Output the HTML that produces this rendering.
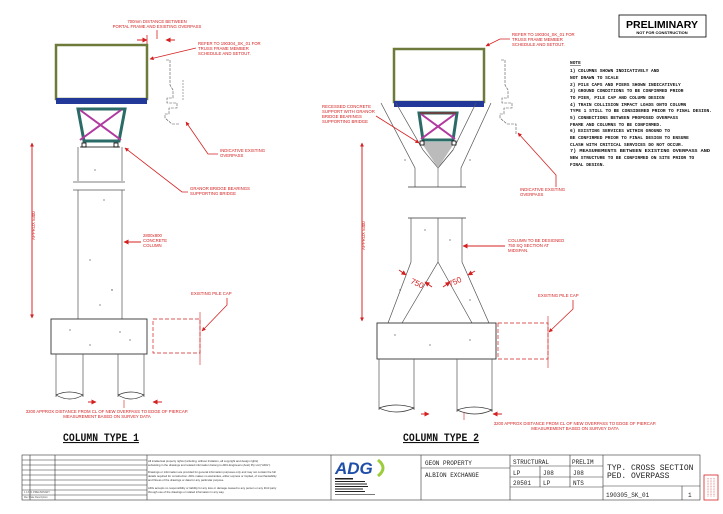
<!DOCTYPE html>
<html><head><meta charset="utf-8"><style>
html,body{margin:0;padding:0;background:#fff;}
svg{display:block;font-family:"Liberation Sans",sans-serif;}
.r{fill:#d42020;font-size:4.3px;}
.n{font-family:"Liberation Mono",monospace;font-size:4.5px;fill:#111;font-weight:bold;}
.tb{font-family:"Liberation Mono",monospace;fill:#222;}
</style></head><body>
<svg width="723" height="514" viewBox="0 0 723 514" xmlns="http://www.w3.org/2000/svg">
<defs>
<marker id="a" viewBox="0 0 10 10" refX="9" refY="5" markerWidth="5" markerHeight="5" orient="auto-start-reverse"><path d="M0,0L10,5L0,10z" fill="#d42020"/></marker>
</defs>
<rect width="723" height="514" fill="#fff"/>

<!-- ===== TYPE 1 ===== -->
<text class="r" x="157" y="23" text-anchor="middle">700mm DISTANCE BETWEEN</text>
<text class="r" x="157" y="28" text-anchor="middle">PORTAL FRAME AND EXISTING OVERPASS</text>
<line x1="157" y1="30" x2="157" y2="39" stroke="#d42020" stroke-width="0.8"/>
<line x1="137" y1="40" x2="147" y2="40" stroke="#d42020" stroke-width="1" marker-end="url(#a)"/>
<line x1="175" y1="40" x2="166" y2="40" stroke="#d42020" stroke-width="1" marker-end="url(#a)"/>
<line x1="147" y1="35" x2="147" y2="44" stroke="#d42020" stroke-width="0.8"/>
<rect x="56" y="45" width="91" height="54" fill="#fff" stroke="#6e7a3a" stroke-width="2.5"/>
<rect x="56" y="98" width="91" height="6" fill="#23399a"/>
<polygon points="78,109 125,109 119,141 84,141" fill="none" stroke="#2b6b67" stroke-width="3"/>
<line x1="80" y1="110" x2="121" y2="140" stroke="#b03aa0" stroke-width="2"/>
<line x1="121" y1="110" x2="80" y2="140" stroke="#b03aa0" stroke-width="2"/>
<rect x="82" y="143" width="4" height="4" fill="#fff" stroke="#000" stroke-width="0.8"/>
<rect x="114" y="143" width="4" height="4" fill="#fff" stroke="#000" stroke-width="0.8"/>
<line x1="80" y1="147" x2="120" y2="147" stroke="#000" stroke-width="0.8"/>
<path d="M78,147V181M122,147V181M73,182H125M73,190H125M78,190V319M122,190V319" stroke="#555" stroke-width="0.7" fill="none"/>
<rect x="51" y="319" width="96" height="35" fill="none" stroke="#333" stroke-width="0.9"/>
<path d="M56,354V397M83,354V397M118,354V397M144,354V397" stroke="#555" stroke-width="0.7"/>
<path d="M56,395q13,-6 27,0q-13,8 -27,0M118,395q13,-6 26,0q-13,8 -26,0" stroke="#333" stroke-width="0.7" fill="none"/>
<g fill="#444"><circle cx="95" cy="170" r="0.6"/><circle cx="104" cy="200" r="0.6"/><circle cx="90" cy="260" r="0.6"/><circle cx="112" cy="290" r="0.7"/><circle cx="100" cy="305" r="0.6"/><circle cx="70" cy="330" r="0.6"/><circle cx="120" cy="332" r="0.6"/><circle cx="90" cy="345" r="0.6"/><circle cx="130" cy="340" r="0.6"/></g>
<rect x="153" y="319" width="47" height="34" fill="none" stroke="#d42020" stroke-width="0.7" stroke-dasharray="4,2"/>
<line x1="200" y1="312" x2="200" y2="365" stroke="#d42020" stroke-width="0.6"/>
<text class="r" x="191" y="295">EXISTING PILE CAP</text>
<path d="M227,298V305L202,331" stroke="#d42020" stroke-width="0.8" fill="none" marker-end="url(#a)"/>
<line x1="32" y1="318" x2="32" y2="143" stroke="#d42020" stroke-width="0.8" marker-end="url(#a)"/>
<line x1="32" y1="143" x2="32" y2="318" stroke="#d42020" stroke-width="0.8" marker-end="url(#a)"/>
<text class="r" transform="translate(35,240) rotate(-90)">APPROX 5300</text>
<path d="M166,60h4v25l3,5v8h-6v5h10v5h-8v6h-4v4l7,6h8" stroke="#555" stroke-width="0.6" fill="none" stroke-dasharray="3,1"/>
<path d="M183,80V100" stroke="#555" stroke-width="0.5" stroke-dasharray="2,1"/>
<text class="r" x="198" y="45">REFER TO 190304_SK_01 FOR</text>
<text class="r" x="198" y="50">TRUSS FRAME MEMBER</text>
<text class="r" x="198" y="55">SCHEDULE AND SETOUT.</text>
<path d="M196,48L150,59" stroke="#d42020" stroke-width="0.8" marker-end="url(#a)"/>
<text class="r" x="220" y="152">INDICATIVE EXISTING</text>
<text class="r" x="220" y="157">OVERPASS</text>
<path d="M218,154H208L186,122" stroke="#d42020" stroke-width="0.8" fill="none" marker-end="url(#a)"/>
<text class="r" x="190" y="190">GRANOR BRIDGE BEARINGS</text>
<text class="r" x="190" y="195">SUPPORTING BRIDGE</text>
<path d="M188,192H182L125,148" stroke="#d42020" stroke-width="0.8" fill="none" marker-end="url(#a)"/>
<text class="r" x="143" y="237">2800x800</text>
<text class="r" x="143" y="242">CONCRETE</text>
<text class="r" x="143" y="247">COLUMN</text>
<line x1="141" y1="242" x2="124" y2="242" stroke="#d42020" stroke-width="1" marker-end="url(#a)"/>
<line x1="88" y1="402" x2="96" y2="402" stroke="#d42020" stroke-width="1" marker-end="url(#a)"/>
<line x1="162" y1="402" x2="153" y2="402" stroke="#d42020" stroke-width="1" marker-end="url(#a)"/>
<line x1="124" y1="400" x2="124" y2="408" stroke="#d42020" stroke-width="0.6"/>
<text class="r" x="107" y="413" text-anchor="middle">3200 APPROX DISTANCE FROM CL OF NEW OVERPASS TO EDGE OF PIERCAP.</text>
<text class="r" x="107" y="418" text-anchor="middle">MEASUREMENT BASED ON SURVEY DATA</text>
<text x="63" y="441" font-family="Liberation Mono,monospace" font-weight="bold" font-size="11" fill="#111" text-decoration="underline" textLength="76" lengthAdjust="spacingAndGlyphs">COLUMN TYPE 1</text>

<!-- ===== TYPE 2 ===== -->
<rect x="394" y="49" width="90" height="53" fill="#fff" stroke="#6e7a3a" stroke-width="2.5"/>
<rect x="394" y="101" width="90" height="6" fill="#23399a"/>
<path d="M381,103L415,168V187M396,103L423,150M438,168L453,150M491,103L461,168V187M476,103L453,150" stroke="#555" stroke-width="0.7" fill="none"/>
<path d="M423,150L438,168L453,150" stroke="#555" stroke-width="0.6" fill="none"/>
<line x1="438" y1="168" x2="438" y2="187" stroke="#555" stroke-width="0.6"/>
<line x1="408" y1="187" x2="466" y2="187" stroke="#333" stroke-width="0.7"/>
<polygon points="421,142 455,142 438,168" fill="#bbb"/>
<polygon points="419,113 457,113 453,140 423,140" fill="none" stroke="#2b6b67" stroke-width="3"/>
<line x1="421" y1="114" x2="455" y2="139" stroke="#b03aa0" stroke-width="2"/>
<line x1="455" y1="114" x2="421" y2="139" stroke="#b03aa0" stroke-width="2"/>
<line x1="420" y1="113" x2="456" y2="113" stroke="#8a2a2a" stroke-width="1.2"/>
<rect x="420" y="141" width="4" height="4" fill="#fff" stroke="#000" stroke-width="0.8"/>
<rect x="452" y="141" width="4" height="4" fill="#fff" stroke="#000" stroke-width="0.8"/>
<line x1="408" y1="218" x2="466" y2="218" stroke="#333" stroke-width="0.7"/>
<path d="M411,218V262L388,323M438,218V262L402,323M438,262L472,323M462,218V262L489,323" stroke="#555" stroke-width="0.7" fill="none"/>
<rect x="377" y="323" width="119" height="36" fill="none" stroke="#333" stroke-width="0.9"/>
<path d="M379,359V410M414,359V410M457,359V412M492,359V412" stroke="#555" stroke-width="0.7"/>
<path d="M379,408q17,-6 35,0q-17,8 -35,0M457,410q17,-6 35,0q-17,8 -35,0" stroke="#333" stroke-width="0.7" fill="none"/>
<g fill="#444"><circle cx="425" cy="230" r="0.6"/><circle cx="450" cy="240" r="0.6"/><circle cx="400" cy="290" r="0.6"/><circle cx="470" cy="300" r="0.6"/><circle cx="395" cy="335" r="0.6"/><circle cx="430" cy="345" r="0.6"/><circle cx="470" cy="340" r="0.6"/><circle cx="405" cy="160" r="0.6"/><circle cx="470" cy="160" r="0.6"/></g>
<rect x="498" y="323" width="50" height="36" fill="none" stroke="#d42020" stroke-width="0.7" stroke-dasharray="4,2"/>
<line x1="548" y1="316" x2="548" y2="368" stroke="#d42020" stroke-width="0.6"/>
<text class="r" x="538" y="297">EXISTING PILE CAP</text>
<path d="M573,300V309L549,332" stroke="#d42020" stroke-width="0.8" fill="none" marker-end="url(#a)"/>
<line x1="362" y1="321" x2="362" y2="143" stroke="#d42020" stroke-width="0.8" marker-end="url(#a)"/>
<line x1="362" y1="143" x2="362" y2="321" stroke="#d42020" stroke-width="0.8" marker-end="url(#a)"/>
<text class="r" transform="translate(365,250) rotate(-90)">APPROX 5300</text>
<text x="410" y="283" fill="#d42020" font-size="8" transform="rotate(25 410 283)">750</text>
<text x="450" y="287" fill="#d42020" font-size="8" transform="rotate(-25 450 287)">750</text>
<line x1="399" y1="270" x2="406" y2="275" stroke="#d42020" stroke-width="1" marker-end="url(#a)"/>
<line x1="432" y1="287" x2="425" y2="282" stroke="#d42020" stroke-width="1" marker-end="url(#a)"/>
<line x1="443" y1="287" x2="450" y2="282" stroke="#d42020" stroke-width="1" marker-end="url(#a)"/>
<line x1="475" y1="271" x2="468" y2="275" stroke="#d42020" stroke-width="1" marker-end="url(#a)"/>
<path d="M501,60h4v25l3,5v8h-6v5h10v5h-8v6h-4v4l7,6h9v10" stroke="#555" stroke-width="0.6" fill="none" stroke-dasharray="3,1"/>
<text class="r" x="512" y="36">REFER TO 190304_SK_01 FOR</text>
<text class="r" x="512" y="41">TRUSS FRAME MEMBER</text>
<text class="r" x="512" y="46">SCHEDULE AND SETOUT.</text>
<path d="M510,39H500L486,46" stroke="#d42020" stroke-width="0.8" fill="none" marker-end="url(#a)"/>
<text class="r" x="322" y="108">RECESSED CONCRETE</text>
<text class="r" x="322" y="113">SUPPORT WITH GRANOR</text>
<text class="r" x="322" y="118">BRIDGE BEARINGS</text>
<text class="r" x="322" y="123">SUPPORTING BRIDGE</text>
<path d="M376,116L419,143" stroke="#d42020" stroke-width="0.8" fill="none" marker-end="url(#a)"/>
<text class="r" x="520" y="191">INDICATIVE EXISTING</text>
<text class="r" x="520" y="196">OVERPASS</text>
<path d="M556,187V175L518,133" stroke="#d42020" stroke-width="0.8" fill="none" marker-end="url(#a)"/>
<text class="r" x="508" y="242">COLUMN TO BE DESIGNED</text>
<text class="r" x="508" y="247">750 SQ SECTION AT</text>
<text class="r" x="508" y="252">MIDSPAN.</text>
<line x1="505" y1="246" x2="463" y2="246" stroke="#d42020" stroke-width="1" marker-end="url(#a)"/>
<line x1="421" y1="414" x2="429" y2="414" stroke="#d42020" stroke-width="1" marker-end="url(#a)"/>
<line x1="502" y1="414" x2="493" y2="414" stroke="#d42020" stroke-width="1" marker-end="url(#a)"/>
<line x1="464" y1="412" x2="464" y2="420" stroke="#d42020" stroke-width="0.6"/>
<text class="r" x="575" y="425" text-anchor="middle">3200 APPROX DISTANCE FROM CL OF NEW OVERPASS TO EDGE OF PIERCAP.</text>
<text class="r" x="575" y="430" text-anchor="middle">MEASUREMENT BASED ON SURVEY DATA</text>
<text x="403" y="441" font-family="Liberation Mono,monospace" font-weight="bold" font-size="11" fill="#111" text-decoration="underline" textLength="76" lengthAdjust="spacingAndGlyphs">COLUMN TYPE 2</text>

<!-- notes -->
<rect x="619" y="15" width="87" height="22" fill="#fff" stroke="#000" stroke-width="0.8"/>
<text x="662" y="28" text-anchor="middle" font-weight="bold" font-size="10.5" fill="#000">PRELIMINARY</text>
<text x="662" y="34" text-anchor="middle" font-weight="bold" font-size="4" fill="#000">NOT FOR CONSTRUCTION</text>
<g class="n">
<text x="570" y="64" text-decoration="underline">NOTE</text>
<text x="570" y="72">1) COLUMNS SHOWN INDICATIVELY AND</text>
<text x="570" y="79">NOT DRAWN TO SCALE</text>
<text x="570" y="86">2) PILE CAPS AND PIERS SHOWN INDICATIVELY</text>
<text x="570" y="92">3) GROUND CONDITIONS TO BE CONFIRMED PRIOR</text>
<text x="570" y="99">TO PIER, PILE CAP AND COLUMN DESIGN</text>
<text x="570" y="106">4) TRAIN COLLISION IMPACT LOADS ONTO COLUMN</text>
<text x="570" y="112" textLength="142" lengthAdjust="spacingAndGlyphs">TYPE 1 STILL TO BE CONSIDERED PRIOR TO FINAL DESIGN.</text>
<text x="570" y="119">5) CONNECTIONS BETWEEN PROPOSED OVERPASS</text>
<text x="570" y="126">FRAME AND COLUMNS TO BE CONFIRMED.</text>
<text x="570" y="132">6) EXISTING SERVICES WITHIN GROUND TO</text>
<text x="570" y="139">BE CONFIRMED PRIOR TO FINAL DESIGN TO ENSURE</text>
<text x="570" y="146">CLASH WITH CRITICAL SERVICES DO NOT OCCUR.</text>
<text x="570" y="152" textLength="140" lengthAdjust="spacingAndGlyphs">7) MEASUREMENTS BETWEEN EXISTING OVERPASS AND</text>
<text x="570" y="159">NEW STRUCTURE TO BE CONFIRMED ON SITE PRIOR TO</text>
<text x="570" y="166">FINAL DESIGN.</text>
</g>

<!-- title block -->
<g stroke="#333" stroke-width="0.6" fill="none">
<rect x="22" y="455" width="678" height="45"/>
<line x1="147" y1="455" x2="147" y2="500"/>
<line x1="331" y1="455" x2="331" y2="500"/>
<line x1="421" y1="455" x2="421" y2="500"/>
<line x1="510" y1="455" x2="510" y2="500"/>
<line x1="603" y1="455" x2="603" y2="500"/>
<path d="M22,460H147M22,465H147M22,470H147M22,475H147M22,480H147M22,485H147M22,490H147M22,495H147M30,455V500M55,455V500"/>
<line x1="421" y1="468" x2="510" y2="468"/>
<path d="M510,466H603M510,477H603M510,487H603M540,466V487M570,455V487"/>
<path d="M603,486H700M682,486V500"/>
</g>
<g font-size="2.8" fill="#333">
<text x="148" y="462">All intellectual property rights (including, without limitation, all copyright and design rights)</text>
<text x="148" y="466">subsisting in the drawings and related information belong to ADG Engineers (Aust) Pty Ltd ("ADG").</text>
<text x="148" y="473">Drawings or information are provided for general information purposes only and may not contain the full</text>
<text x="148" y="477">details required for construction. ADG makes no warranties, either express or implied, of merchantability</text>
<text x="148" y="481">and fitness of the drawings or data for any particular purpose.</text>
<text x="148" y="489">ADG accepts no responsibility or liability for any loss or damage caused to any person or any third party</text>
<text x="148" y="493">through use of the drawings or related information in any way.</text>
</g>
<text x="335" y="474" font-family="Liberation Sans,sans-serif" font-weight="bold" font-style="italic" font-size="17" fill="#1f4fa8">ADG</text>
<path d="M378,460q10,8 0,16" stroke="#9ccc3a" stroke-width="3" fill="none"/>
<g fill="#222"><rect x="335" y="478" width="18" height="1.5"/><rect x="335" y="481" width="30" height="1"/><rect x="335" y="483.5" width="32" height="1"/><rect x="335" y="486" width="33" height="1"/><rect x="335" y="488.5" width="28" height="1"/><rect x="335" y="491" width="30" height="1"/><rect x="335" y="494" width="40" height="0.6"/></g>
<g class="tb" font-size="6">
<text x="425" y="465">GEON PROPERTY</text>
<text x="425" y="477">ALBION EXCHANGE</text>
<text x="513" y="464">STRUCTURAL</text>
<text x="572" y="464">PRELIM</text>
<text x="513" y="475">LP</text><text x="543" y="475">J08</text><text x="573" y="475">J08</text>
<text x="513" y="485">20501</text><text x="543" y="485">LP</text><text x="573" y="485">NTS</text>
<text x="606" y="497">190305_SK_01</text>
<text x="688" y="497">1</text>
</g>
<text x="607" y="470" class="tb" font-size="8">TYP. CROSS SECTION</text>
<text x="607" y="478" class="tb" font-size="8">PED. OVERPASS</text>
<g font-size="2.5" fill="#555"><text x="24" y="493">1  13.01   PRELIMINARY</text><text x="24" y="498">Rev  Date          Description</text></g>
<rect x="704" y="475" width="14" height="25" fill="none" stroke="#d42020" stroke-width="0.8"/>
<path d="M708,478V497M711,478V497M714,478V497" stroke="#d42020" stroke-width="0.5" stroke-dasharray="1,0.6"/>
</svg>
</body></html>
